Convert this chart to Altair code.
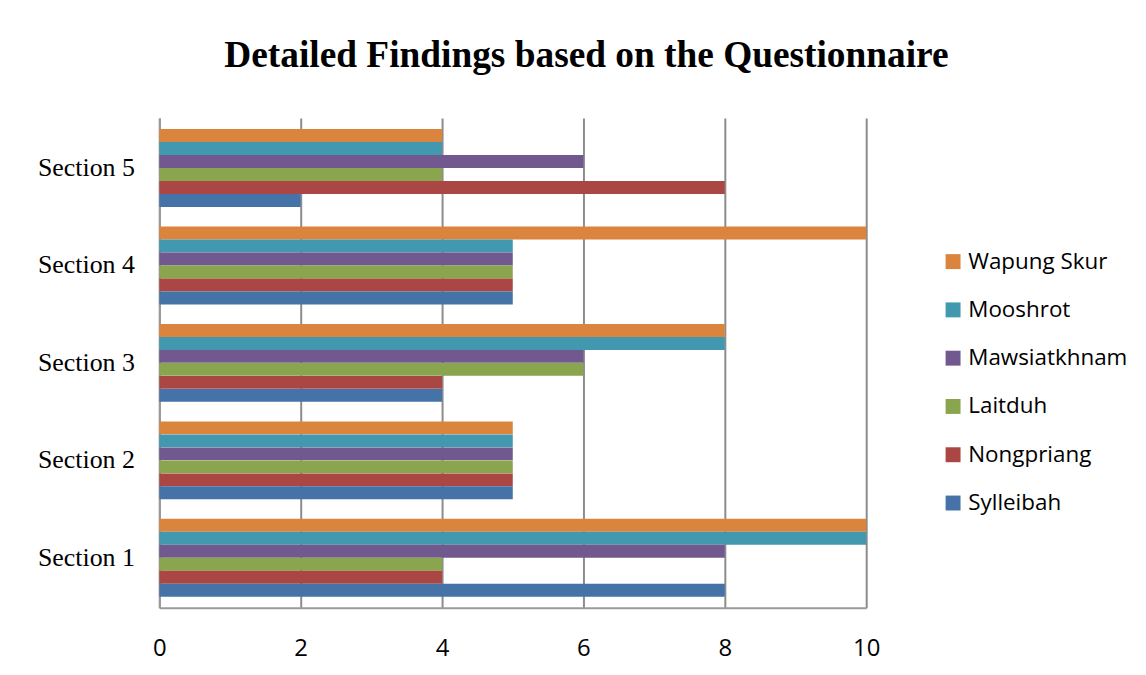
import altair as alt
import pandas as pd

sections = ["Section 1", "Section 2", "Section 3", "Section 4", "Section 5"]
series = ["Wapung Skur", "Mooshrot", "Mawsiatkhnam", "Laitduh", "Nongpriang", "Sylleibah"]
colors = ["#DB843D", "#4198AF", "#71588F", "#89A54E", "#AA4643", "#4572A7"]

sylleibah = [8, 5, 4, 5, 2]
nongpriang = [4, 5, 4, 5, 8]
laitduh = [4, 5, 6, 5, 4]
mawsiatkhnam = [8, 5, 6, 5, 6]
mooshrot = [10, 5, 8, 5, 4]
wapung_skur = [10, 5, 8, 10, 4]

values = {
    "Wapung Skur": wapung_skur,
    "Mooshrot": mooshrot,
    "Mawsiatkhnam": mawsiatkhnam,
    "Laitduh": laitduh,
    "Nongpriang": nongpriang,
    "Sylleibah": sylleibah,
}

rows = []
for s in series:
    for sec, v in zip(sections, values[s]):
        rows.append({"Section": sec, "Series": s, "Value": v})
df = pd.DataFrame(rows)

chart = alt.Chart(df).mark_bar(size=13).encode(
    x=alt.X("Value:Q", scale=alt.Scale(domain=[0, 10]),
            axis=alt.Axis(values=[0, 2, 4, 6, 8, 10], title=None, grid=True,
                          gridColor="#8c8c8c", gridWidth=2, domainColor="#9a9a9a",
                          domainWidth=2, ticks=False, labelPadding=29, labelFlush=False,
                          labelFont="Open Sans", labelFontSize=24, labelColor="#000",
                          labelOverlap=False)),
    y=alt.Y("Section:N", sort=sections[::-1],
            scale=alt.Scale(paddingInner=0.2, paddingOuter=0.113),
            axis=alt.Axis(title=None, ticks=False, domainColor="#9a9a9a", domainWidth=2,
                          labelPadding=25, labelFont="Liberation Serif", labelFontSize=26,
                          labelColor="#000")),
    yOffset=alt.YOffset("Series:N", sort=series),
    color=alt.Color("Series:N", scale=alt.Scale(domain=series, range=colors),
                    legend=alt.Legend(title=None, symbolType="square", symbolSize=225,
                                      labelFont="Open Sans", labelFontSize=22.5,
                                      labelColor="#000", rowPadding=25.5,
                                      orient="none", legendX=786, legendY=133,
                                      symbolStrokeWidth=0)),
).properties(
    width=710,
    height=492,
    title=alt.TitleParams("Detailed Findings based on the Questionnaire",
                          font="Liberation Serif", fontSize=37.5, fontWeight="bold",
                          color="#000", anchor="middle", frame="group", dx=74, offset=44),
    padding={"left": 29, "top": 27, "right": 10, "bottom": 10},
).configure_view(stroke=None)

chart.save("out.html", embed_options={"renderer": "svg", "actions": False})
